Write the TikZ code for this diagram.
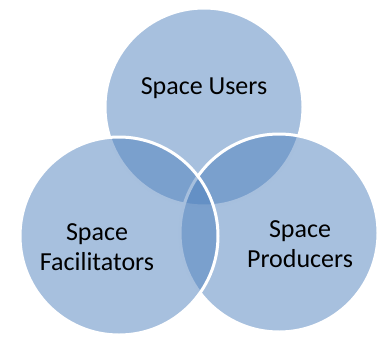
\documentclass[tikz,border=0pt]{standalone}
\usepackage{fontspec}
\setmainfont{Carlito}
\definecolor{vennblue}{HTML}{4F81BD}
\begin{document}
\begin{tikzpicture}[x = 1pt, y = -1pt, main/.style = {circle, draw = white, line width = 3pt, fill = vennblue, fill opacity = 0.5, minimum size = 198pt, inner sep = 0}, txt/.style = {align = center, font = \fontsize{26}{30}\selectfont, text = black}]
			\useasboundingbox (0,0) rectangle (379,337);
			\clip (0,0) rectangle (379,337);
			\node[main] (1) at (204,107) {};
			\node[main] (2) at (279,233) {};
			\node[main] (3) at (119,236) {};
			\node[txt] (users) at (204,88) {Space Users};
			\node[txt] (producers) at (300,244) {Space\\Producers};
			\node[txt] (facilitators) at (97,247) {Space\\Facilitators};
		\end{tikzpicture}
\end{document}
